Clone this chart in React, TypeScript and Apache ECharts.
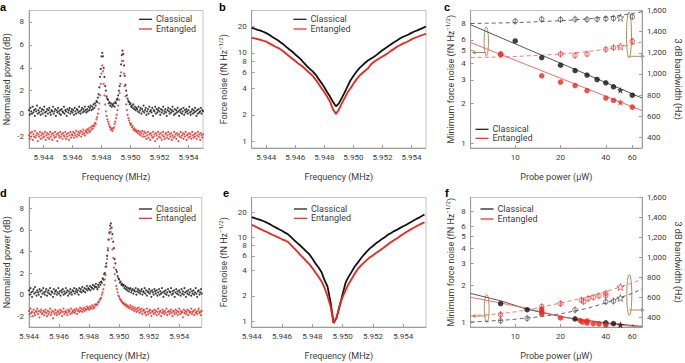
import React, { useEffect, useRef } from 'react';
import * as echarts from 'echarts';

// ---------------- data ----------------
// Panel a: normalized power (dB), sweep 5.943 MHz, 50 Hz steps
const aFreqStart = 5.943;
const aFreqStep = 0.00005;
const aClassical = [
  0.3, -0.1, 0.5, 0.2, 0.0, 0.6, 0.1, 0.3, -0.2, 0.4,
  0.2, 0.7, 0.0, 0.3, 0.1, 0.5, -0.1, 0.2, 0.4, 0.0,
  0.3, 0.6, 0.1, -0.2, 0.2, 0.4, 0.0, 0.3, 0.5, 0.1,
  -0.1, 0.3, 0.2, 0.6, 0.0, 0.2, 0.4, -0.2, 0.3, 0.1,
  0.5, 0.2, 0.0, 0.3, -0.1, 0.4, 0.2, 0.1, 0.6, 0.0,
  0.3, 0.2, -0.2, 0.4, 0.1, 0.3, 0.5, 0.0, 0.2, 0.4,
  0.1, 0.3, -0.1, 0.5, 0.2, 0.0, 0.4, 0.3, 0.1, 0.6,
  0.2, 0.0, 0.3, 0.5, 0.1, 0.4, 0.2, 0.6, 0.3, 0.1,
  0.4, 0.2, 0.6, 0.3, 0.5, 0.7, 0.3, 0.6, 0.4, 0.8,
  0.5, 0.9, 0.7, 1.1, 1.0, 1.4, 1.7, 2.3, 3.2, 3.9,
  5.0, 5.3, 5.0, 4.0, 3.2, 2.4, 2.0, 1.5, 1.3, 1.2,
  0.9, 1.0, 0.7, 0.9, 0.6, 0.8, 0.7, 0.9, 0.6, 1.0,
  0.9, 1.2, 1.3, 1.6, 2.0, 2.4, 3.3, 4.3, 5.1, 5.5,
  5.2, 4.2, 3.3, 2.5, 2.0, 1.6, 1.3, 1.1, 1.0, 0.8,
  0.9, 0.6, 0.7, 0.5, 0.8, 0.4, 0.6, 0.3, 0.5, 0.4,
  0.2, 0.6, 0.1, 0.3, 0.5, 0.0, 0.4, 0.2, 0.7, 0.1,
  0.3, 0.5, -0.1, 0.2, 0.4, 0.0, 0.6, 0.2, 0.3, 0.1,
  0.5, -0.2, 0.3, 0.2, 0.6, 0.0, 0.4, 0.1, 0.3, 0.5,
  0.2, -0.1, 0.4, 0.1, 0.3, 0.6, 0.0, 0.2, 0.4, 0.1,
  -0.2, 0.3, 0.5, 0.2, 0.0, 0.4, 0.1, 0.3, 0.6, 0.2,
  -0.1, 0.4, 0.0, 0.3, 0.1, 0.5, 0.2, -0.2, 0.3, 0.1,
  0.4, 0.0, 0.2, 0.5, -0.1, 0.3, 0.1, 0.4, 0.2, 0.0,
  0.3, 0.6, 0.1, -0.1, 0.2, 0.4, 0.0, 0.3, 0.1, 0.5,
  0.2, -0.2, 0.3, 0.0, 0.4, 0.1, 0.2, 0.5, 0.0, 0.3, 0.2,
];
const aEntangled = [
  -1.9, -2.2, -1.7, -2.0, -1.6, -2.3, -1.8, -2.0, -1.5, -2.1,
  -1.9, -1.7, -2.4, -1.8, -2.0, -1.6, -2.2, -1.9, -1.7, -2.1,
  -1.8, -2.0, -1.6, -2.3, -1.9, -1.7, -2.1, -1.8, -2.2, -1.6,
  -2.0, -1.8, -2.3, -1.7, -1.9, -2.1, -1.6, -2.0, -1.8, -2.4,
  -1.7, -1.9, -2.1, -1.6, -2.0, -1.8, -2.2, -1.7, -1.9, -2.0,
  -1.6, -2.2, -1.8, -2.0, -1.7, -2.3, -1.9, -1.6, -2.1, -1.8,
  -1.9, -1.6, -2.1, -1.7, -1.9, -1.5, -2.0, -1.8, -1.6, -1.9,
  -1.7, -1.5, -2.0, -1.6, -1.8, -1.4, -1.7, -1.9, -1.5, -1.6,
  -1.4, -1.7, -1.3, -1.5, -1.6, -1.2, -1.4, -1.1, -1.3, -1.0,
  -1.1, -0.8, -0.9, -0.5, -0.3, 0.0, 0.4, 0.9, 1.6, 2.6,
  3.5, 4.2, 3.7, 2.6, 1.6, 0.8, 0.2, -0.2, -0.5, -0.7,
  -0.9, -1.1, -1.2, -1.4, -1.3, -1.5, -1.3, -1.2, -0.9, -0.7,
  -0.4, -0.1, 0.3, 0.7, 1.2, 1.8, 2.6, 3.6, 4.6, 5.2,
  4.6, 3.5, 2.4, 1.5, 0.8, 0.3, -0.1, -0.4, -0.6, -0.8,
  -1.0, -0.9, -1.2, -1.1, -1.4, -1.3, -1.5, -1.4, -1.6, -1.5,
  -1.7, -1.5, -1.8, -1.6, -1.9, -1.7, -1.5, -2.0, -1.8, -1.6,
  -2.0, -1.7, -2.2, -1.9, -1.6, -2.1, -1.8, -2.3, -1.7, -1.9,
  -2.1, -1.6, -2.0, -1.8, -2.4, -1.7, -1.9, -2.2, -1.6, -2.0,
  -1.8, -2.1, -1.7, -2.3, -1.9, -1.6, -2.0, -2.2, -1.8, -1.7,
  -2.1, -1.9, -1.6, -2.2, -1.8, -2.0, -1.7, -2.3, -1.9, -2.1,
  -1.6, -2.0, -1.8, -2.2, -1.7, -1.9, -2.4, -1.8, -2.0, -1.6,
  -2.1, -1.9, -1.7, -2.2, -1.8, -2.0, -1.6, -2.3, -1.9, -1.8,
  -2.1, -1.7, -2.0, -1.8, -2.2, -1.6, -1.9, -2.1, -1.8, -2.0,
  -1.7, -2.2, -1.9, -1.6, -2.0, -1.8, -2.3, -1.7, -1.9, -2.1, -1.8,
];

// Panel b: force noise (fN Hz^-1/2), 200 Hz steps from 5.943 MHz
const bFreqStart = 5.943;
const bFreqStep = 0.0002;
const bClassical = [
  19.1, 18.7, 18.2, 17.8, 17.3, 16.7, 16.0, 15.2, 14.5, 13.9,
  13.1, 12.4, 11.6, 10.9, 10.3, 9.6, 9.0, 8.4, 7.7, 7.1,
  6.6, 6.2, 5.7, 5.1, 4.6, 4.1, 3.6, 3.2, 2.8, 2.5,
  2.7, 3.1, 3.6, 4.2, 4.9, 5.5, 6.1, 6.7, 7.2, 7.7,
  8.2, 8.6, 9.0, 9.5, 10.1, 10.7, 11.3, 11.9, 12.5, 13.2,
  13.8, 14.5, 15.1, 15.6, 16.1, 16.8, 17.4, 17.9, 18.5, 19.1, 19.8,
];
const bEntangled = [
  14.8, 14.6, 14.3, 14.0, 13.7, 13.4, 12.8, 12.3, 11.8, 11.4,
  10.9, 10.3, 9.7, 9.1, 8.6, 8.1, 7.6, 7.2, 6.8, 6.3,
  5.9, 5.5, 5.0, 4.5, 4.0, 3.6, 3.2, 2.8, 2.3, 2.05,
  2.3, 2.7, 3.1, 3.6, 4.0, 4.5, 5.0, 5.5, 5.9, 6.3,
  6.7, 7.4, 7.9, 8.3, 8.7, 9.1, 9.5, 10.0, 10.6, 11.1,
  11.7, 12.2, 12.7, 13.1, 13.6, 14.2, 14.7, 15.1, 15.6, 16.0, 16.4,
];

// Panel c: probe power sweep
const cClassicalPower = [10, 15, 20, 25, 30, 35, 40, 45, 60];
const cClassicalForce = [5.9, 4.42, 3.87, 3.53, 3.26, 3.02, 2.85, 2.66, 2.3];
const cClassicalStar = [50, 2.51];
const cEntangledPower = [8, 15, 20, 25, 30, 40, 45, 60];
const cEntangledForce = [4.69, 3.22, 2.89, 2.72, 2.49, 2.19, 2.1, 1.87];
const cEntangledStar = [50, 2.03];
const cClassicalBwPower = [10, 15, 20, 25, 30, 35, 40, 45, 60];
const cClassicalBw = [1499, 1518, 1515, 1518, 1515, 1518, 1522, 1525, 1541];
const cClassicalBwStar = [50, 1531];
const cEntangledBwPower = [8, 20, 25, 30, 40, 45, 60];
const cEntangledBw = [1185, 1188, 1175, 1188, 1232, 1248, 1310];
const cEntangledBwStar = [50, 1260];
const cFitPower = [5.06, 69.6];
const cClassicalFit = [7.8, 2.19];
const cEntangledFit = [5.73, 1.76];
const cDashPower = [5.06, 10, 20, 30, 40, 50, 60, 69.6];
const cClassicalBwFit = [1477, 1485, 1503, 1520, 1537, 1554, 1572, 1588];
const cEntangledBwFit = [1154, 1165, 1188, 1211, 1234, 1257, 1280, 1302];

// Panel d
const dFreqStart = 5.944;
const dFreqStep = 0.00005;
const dClassical = [
  0.4, 0.0, 0.6, 0.2, -0.2, 0.3, 0.5, 0.1, 0.7, 0.2,
  -0.1, 0.4, 0.2, 0.0, 0.5, 0.3, -0.2, 0.4, 0.1, 0.6,
  0.2, 0.0, 0.3, 0.5, -0.1, 0.2, 0.4, 0.1, 0.6, 0.0,
  0.3, 0.2, -0.2, 0.5, 0.1, 0.3, 0.4, 0.0, 0.2, 0.6,
  0.1, 0.3, -0.1, 0.4, 0.2, 0.5, 0.0, 0.3, 0.1, 0.6,
  0.2, 0.4, -0.1, 0.3, 0.1, 0.5, 0.2, 0.0, 0.4, 0.3,
  0.6, 0.1, 0.3, 0.5, 0.2, 0.4, 0.0, 0.6, 0.3, 0.5,
  0.2, 0.7, 0.4, 0.3, 0.6, 0.2, 0.5, 0.8, 0.4, 0.6,
  0.5, 0.8, 0.4, 0.7, 0.6, 0.9, 0.5, 0.8, 0.7, 1.0,
  0.7, 0.5, 0.9, 0.7, 1.1, 0.9, 1.2, 1.1, 1.5, 1.4,
  1.9, 2.0, 2.6, 2.9, 3.6, 4.1, 5.1, 5.7, 6.4, 6.6,
  6.2, 5.6, 4.9, 4.3, 3.3, 2.9, 2.3, 2.1, 1.7, 1.5,
  1.4, 1.1, 1.2, 0.9, 1.0, 0.8, 0.9, 0.6, 0.8, 0.5,
  0.7, 0.4, 0.6, 0.3, 0.5, 0.6, 0.2, 0.4, 0.5, 0.1,
  0.4, 0.3, 0.6, 0.0, 0.3, 0.5, 0.2, 0.4, 0.1, 0.3,
  0.5, 0.0, 0.3, 0.2, 0.6, 0.1, 0.4, -0.1, 0.3, 0.2,
  0.5, 0.1, 0.3, -0.2, 0.4, 0.2, 0.0, 0.5, 0.3, 0.1,
  0.4, -0.1, 0.2, 0.5, 0.0, 0.3, 0.1, 0.6, 0.2, -0.2,
  0.3, 0.1, 0.4, 0.0, 0.2, 0.5, -0.1, 0.3, 0.2, 0.6,
  0.0, 0.3, 0.1, 0.4, -0.2, 0.2, 0.5, 0.1, 0.3, 0.0,
  0.4, 0.2, -0.1, 0.5, 0.1, 0.3, 0.0, 0.6, 0.2, -0.2,
  0.3, 0.1, 0.4, 0.0, 0.2, 0.5, -0.1, 0.3, 0.1, 0.4,
  0.0, 0.2, 0.6, 0.1, -0.2, 0.3, 0.4, 0.0, 0.2, 0.5, 0.1,
];
const dEntangled = [
  -1.5, -1.8, -1.3, -1.7, -1.6, -2.0, -1.4, -1.7, -1.9, -1.5,
  -1.6, -1.3, -1.8, -1.5, -2.1, -1.6, -1.4, -1.8, -1.7, -1.5,
  -1.9, -1.6, -1.4, -1.7, -2.0, -1.5, -1.8, -1.6, -1.3, -1.9,
  -1.7, -1.5, -2.2, -1.6, -1.8, -1.4, -1.7, -1.9, -1.5, -1.6,
  -1.8, -1.4, -1.7, -1.5, -2.0, -1.6, -1.3, -1.8, -1.6, -1.5,
  -1.7, -1.9, -1.4, -1.6, -1.5, -1.8, -1.3, -1.7, -1.5, -1.6,
  -1.4, -1.7, -1.5, -1.3, -1.8, -1.5, -1.4, -1.6, -1.2, -1.5,
  -1.3, -1.6, -1.4, -1.2, -1.5, -1.3, -1.4, -1.1, -1.3, -1.2,
  -1.4, -1.1, -1.3, -1.2, -1.0, -1.3, -1.1, -1.2, -0.9, -1.0,
  -0.9, -0.9, -0.7, -0.7, -0.5, -0.4, -0.3, 0.0, 0.2, 0.5,
  0.9, 1.4, 1.8, 2.6, 3.3, 4.3, 5.1, 5.8, 6.1, 5.8,
  5.2, 4.2, 3.4, 2.5, 1.9, 1.3, 0.8, 0.5, 0.2, -0.1,
  -0.2, -0.4, -0.5, -0.6, -0.7, -0.8, -0.8, -0.9, -1.0, -0.9,
  -1.1, -1.0, -1.2, -1.1, -1.3, -1.0, -1.2, -1.4, -1.1, -1.3,
  -1.5, -1.2, -1.4, -1.6, -1.3, -1.5, -1.2, -1.7, -1.4, -1.6,
  -1.3, -1.8, -1.5, -1.4, -1.7, -1.6, -1.9, -1.3, -1.6, -1.8,
  -1.5, -1.4, -1.7, -2.0, -1.5, -1.6, -1.8, -1.4, -1.7, -1.5,
  -1.9, -1.6, -1.3, -1.8, -1.6, -1.5, -2.0, -1.7, -1.4, -1.6,
  -1.8, -1.5, -1.7, -1.3, -1.9, -1.6, -1.5, -1.8, -1.6, -1.4,
  -1.7, -2.0, -1.5, -1.6, -1.8, -1.4, -1.7, -1.5, -1.9, -1.6,
  -1.3, -1.8, -1.5, -1.7, -1.6, -2.1, -1.4, -1.7, -1.5, -1.8,
  -1.6, -1.4, -1.9, -1.5, -1.7, -1.6, -1.3, -1.8, -1.6, -1.5,
  -1.9, -1.4, -1.7, -1.6, -1.8, -1.5, -1.3, -1.7, -1.6, -1.9, -1.5,
];

// Panel e
const eFreqStart = 5.944;
const eFreqStep = 0.0002;
const eClassical = [
  17.5, 17.0, 16.5, 16.1, 15.6, 15.0, 14.4, 13.7, 13.1, 12.5,
  12.0, 11.4, 10.9, 10.1, 9.3, 8.6, 8.0, 7.4, 6.8, 6.3,
  5.6, 4.9, 4.4, 3.87, 3.1, 2.6, 1.7, 0.95, 1.1, 1.5,
  2.1, 2.9, 3.4, 3.9, 4.5, 5.0, 5.6, 6.2, 6.8, 7.4,
  7.9, 8.5, 9.0, 9.6, 10.1, 10.8, 11.3, 11.9, 12.4, 13.0,
  13.6, 14.2, 14.9, 15.6, 16.4, 17.1, 17.9, 18.8,
];
const eEntangled = [
  14.1, 13.6, 13.0, 12.5, 12.0, 11.6, 11.1, 10.7, 10.3, 9.9,
  9.5, 9.2, 8.8, 8.1, 7.4, 6.8, 6.2, 5.7, 5.2, 4.8,
  4.3, 3.8, 3.4, 3.0, 2.5, 2.0, 1.5, 0.95, 1.1, 1.55,
  1.95, 2.35, 2.8, 3.2, 3.7, 4.2, 4.6, 5.0, 5.4, 5.8,
  6.1, 6.5, 6.9, 7.3, 7.8, 8.3, 8.8, 9.3, 9.8, 10.4,
  11.0, 11.6, 12.2, 12.8, 13.4, 14.0, 14.6, 15.2,
];

// Panel f
const fClassicalPower = [8, 12, 25, 40, 45];
const fClassicalForce = [1.42, 1.27, 1.07, 0.995, 0.98];
const fClassicalStar = [50, 0.96];
const fEntangledPower = [15, 15, 15, 20, 27, 28, 30, 30, 33, 36, 40];
const fEntangledForce = [1.28, 1.22, 1.17, 1.09, 1.04, 1.01, 1.03, 0.99, 0.98, 0.975, 0.955];
const fClassicalBwPower = [8, 12, 25, 40, 45];
const fClassicalBw = [362, 387, 472, 554, 560];
const fClassicalBwStar = [50, 591];
const fEntangledBwPower = [8, 15, 20, 27.5, 28.5, 30.5, 33, 36, 40, 40];
const fEntangledBw = [425, 505, 535, 570, 554, 585, 598, 613, 639, 617];
const fEntangledBwStar = [50, 702];
const fSolidPower = [5.06, 8, 12, 20, 25, 40, 69.6];
const fClassicalFit = [1.72, 1.5, 1.28, 1.12, 1.07, 0.995, 0.93];
const fEntangledFit = [1.6, 1.44, 1.3, 1.12, 1.06, 0.98, 0.915];
const fDashPower = [5.06, 8, 10, 15, 20, 30, 40, 50, 60, 69.6];
const fClassicalBwFit = [350, 366, 378, 405, 432, 487, 541, 596, 637, 680];
const fEntangledBwFit = [412, 434, 452, 500, 541, 600, 655, 702, 742, 780];

// tick labels
const freqTicks = [5.944, 5.946, 5.948, 5.95, 5.952, 5.954];
const dbTicks = [-2, 0, 2, 4, 6, 8];
const forceTicksBE = [1, 2, 4, 6, 8, 10, 20];
const forceTicksCF = [1, 2, 3, 4, 5, 6, 7, 8];
const bwTicks = [400, 600, 800, 1000, 1200, 1400, 1600];
const powerTicks = [10, 20, 40, 60];

// ---------------- styling ----------------
const FONT = 'Roboto, "Noto Sans", "DejaVu Sans", sans-serif';
const AX = '#9d9d9d';
const TXT = '#3c3c3c';
const BLACK = '#111111';
const RED = '#f3221c';
const TAN = '#b38b60';
const STAR = 'path://M0,-10L2.35,-3.24L9.51,-3.09L3.8,1.24L5.88,8.09L0,4L-5.88,8.09L-3.8,1.24L-9.51,-3.09L-2.35,-3.24Z';
const PHI = 'path://M0,-9L0,9M6,0A6,6 0 1,1 -6,0A6,6 0 1,1 6,0Z';

const seq = (start: number, step: number, ys: number[]) =>
  ys.map((y, i) => [Number((start + step * i).toFixed(6)), y]);
const zip = (xs: number[], ys: number[]) => xs.map((x, i) => [x, ys[i]]);

const forceName = (prefix: string) => `${prefix} (fN Hz{sup|−1/2})`;
const nameStyle = {
  color: TXT,
  fontSize: 9,
  fontFamily: FONT,
  lineHeight: 12,
  rich: { sup: { fontSize: 6, lineHeight: 6, verticalAlign: 'top', color: TXT, fontFamily: FONT } },
};

function baseAxis(extra: any) {
  return {
    axisLine: { show: true, onZero: false, lineStyle: { color: AX, width: 1 } },
    splitLine: { show: false },
    nameTextStyle: nameStyle,
    ...extra,
    axisTick: { show: true, inside: true, length: 3, lineStyle: { color: AX }, ...(extra.axisTick || {}) },
    axisLabel: {
      color: TXT, fontSize: 8, fontFamily: FONT, margin: 5, hideOverlap: false, interval: 0,
      showMinLabel: true, showMaxLabel: true, ...(extra.axisLabel || {}),
    },
  };
}

function freqAxis(grid: number, min: number, max: number) {
  return baseAxis({
    type: 'value',
    gridIndex: grid,
    min,
    max,
    name: 'Frequency (MHz)',
    nameLocation: 'middle',
    nameGap: 23,
    axisTick: { customValues: freqTicks },
    axisLabel: { customValues: freqTicks, formatter: (v: number) => v.toFixed(3) },
  });
}
function powerAxis(grid: number) {
  return baseAxis({
    type: 'log',
    gridIndex: grid,
    min: 5.06,
    max: 69.6,
    name: 'Probe power (μW)',
    nameLocation: 'middle',
    nameGap: 23,
    axisTick: { customValues: powerTicks },
    axisLabel: { customValues: powerTicks, formatter: (v: number) => String(Math.round(v)) },
  });
}

function legendG(x: number, y1: number, y2: number) {
  const t = (y: number, text: string) => ({
    type: 'text',
    x: x + 17,
    y,
    style: { text, fill: TXT, fontSize: 9, fontFamily: FONT, textVerticalAlign: 'middle', verticalAlign: 'middle' },
  });
  return [
    { type: 'line', shape: { x1: x, y1, x2: x + 13, y2: y1 }, style: { stroke: BLACK, lineWidth: 1.2 } },
    t(y1, 'Classical'),
    { type: 'line', shape: { x1: x, y1: y2, x2: x + 13, y2: y2 }, style: { stroke: RED, lineWidth: 1.2 } },
    t(y2, 'Entangled'),
  ];
}
function letter(x: number, y: number, text: string) {
  return {
    type: 'text',
    x,
    y,
    style: { text, fill: '#000', fontSize: 11, fontWeight: 'bold', fontFamily: '"Liberation Sans", Arial, sans-serif', textVerticalAlign: 'top', verticalAlign: 'top' },
  };
}
function ellipse(cx: number, cy: number, rx: number, ry: number) {
  return { type: 'ellipse', shape: { cx, cy, rx, ry }, style: { fill: 'none', stroke: TAN, lineWidth: 1 } };
}
function arrow(x1: number, x2: number, y: number) {
  const dir = x2 > x1 ? 1 : -1;
  return [
    { type: 'line', shape: { x1, y1: y, x2: x2 - dir * 3, y2: y }, style: { stroke: TAN, lineWidth: 1 } },
    { type: 'polygon', shape: { points: [[x2, y], [x2 - dir * 4, y - 2], [x2 - dir * 4, y + 2]] }, style: { fill: TAN } },
  ];
}

function dots(name: string, x: number, y: number, data: any[], color: string) {
  return { name, type: 'scatter', xAxisIndex: x, yAxisIndex: y, data, symbol: 'circle', symbolSize: 2, itemStyle: { color }, silent: true };
}
function curve(name: string, x: number, y: number, data: any[], color: string, width = 1.8, dashed = false) {
  return {
    name, type: 'line', xAxisIndex: x, yAxisIndex: y, data, symbol: 'none', showSymbol: false, silent: true,
    lineStyle: { color, width, type: dashed ? [4, 3] : 'solid' },
  };
}
function marks(name: string, x: number, y: number, data: any[], color: string, kind: 'filled' | 'star' | 'phi' | 'ostar') {
  const base: any = { name, type: 'scatter', xAxisIndex: x, yAxisIndex: y, data, silent: true, z: 5 };
  if (kind === 'filled') return { ...base, symbol: 'circle', symbolSize: 5.5, itemStyle: { color } };
  if (kind === 'star') return { ...base, symbol: STAR, symbolSize: 7, itemStyle: { color } };
  if (kind === 'phi') return { ...base, symbol: PHI, symbolSize: [4.6, 6.9], itemStyle: { color: 'rgba(0,0,0,0)', borderColor: color, borderWidth: 0.8 } };
  return { ...base, symbol: STAR, symbolSize: 7, itemStyle: { color: 'rgba(0,0,0,0)', borderColor: color, borderWidth: 0.8 } };
}

export default function App() {
  const ref = useRef<HTMLDivElement>(null);
  useEffect(() => {
    if (!ref.current) return;
    const chart = echarts.init(ref.current, undefined, { renderer: 'svg' });
    const gridStyle = { show: true, borderColor: '#c4c4c4', borderWidth: 1, containLabel: false };
    const option: any = {
      animation: false,
      textStyle: { fontFamily: FONT },
      grid: [
        { ...gridStyle, left: 27, top: 10.5, width: 176, height: 137.5 },
        { ...gridStyle, left: 251.7, top: 10.5, width: 174.3, height: 137.5 },
        { ...gridStyle, left: 470.7, top: 10.5, width: 174.3, height: 137.5 },
        { ...gridStyle, left: 26.7, top: 197.5, width: 175, height: 138 },
        { ...gridStyle, left: 251.7, top: 197.5, width: 174.3, height: 138 },
        { ...gridStyle, left: 470.7, top: 197.5, width: 173.6, height: 138 },
      ],
      xAxis: [
        freqAxis(0, 5.943, 5.955),
        freqAxis(1, 5.943, 5.955),
        powerAxis(2),
        freqAxis(3, 5.944, 5.9555),
        freqAxis(4, 5.944, 5.9555),
        powerAxis(5),
      ],
      yAxis: [
        baseAxis({
          type: 'value', gridIndex: 0, min: -3, max: 9, name: 'Normalized power (dB)', nameLocation: 'middle', nameGap: 16,
          axisTick: { customValues: dbTicks }, axisLabel: { customValues: dbTicks },
        }),
        baseAxis({
          type: 'log', gridIndex: 1, min: 0.85, max: 30, name: forceName('Force noise'), nameLocation: 'middle', nameGap: 22,
          axisTick: { customValues: forceTicksBE }, axisLabel: { customValues: forceTicksBE, formatter: (v: number) => String(Math.round(v)) },
        }),
        baseAxis({
          type: 'log', gridIndex: 2, min: 0.92, max: 10, name: forceName('Minimum force noise'), nameLocation: 'middle', nameGap: 14,
          axisTick: { customValues: forceTicksCF }, axisLabel: { customValues: forceTicksCF, formatter: (v: number) => String(Math.round(v)) },
        }),
        baseAxis({
          type: 'value', gridIndex: 2, position: 'right', min: 300, max: 1600, name: '3 dB bandwidth (Hz)', nameLocation: 'middle', nameGap: 30, nameRotate: -90,
          axisTick: { customValues: bwTicks }, axisLabel: { customValues: bwTicks, formatter: (v: number) => v.toLocaleString('en-US') },
        }),
        baseAxis({
          type: 'value', gridIndex: 3, min: -3, max: 9, name: 'Normalized power (dB)', nameLocation: 'middle', nameGap: 16,
          axisTick: { customValues: dbTicks }, axisLabel: { customValues: dbTicks },
        }),
        baseAxis({
          type: 'log', gridIndex: 4, min: 0.85, max: 30, name: forceName('Force noise'), nameLocation: 'middle', nameGap: 22,
          axisTick: { customValues: forceTicksBE }, axisLabel: { customValues: forceTicksBE, formatter: (v: number) => String(Math.round(v)) },
        }),
        baseAxis({
          type: 'log', gridIndex: 5, min: 0.92, max: 10.3, name: forceName('Minimum force noise'), nameLocation: 'middle', nameGap: 14,
          axisTick: { customValues: forceTicksCF }, axisLabel: { customValues: forceTicksCF, formatter: (v: number) => String(Math.round(v)) },
        }),
        baseAxis({
          type: 'value', gridIndex: 5, position: 'right', min: 300, max: 1600, name: '3 dB bandwidth (Hz)', nameLocation: 'middle', nameGap: 30, nameRotate: -90,
          axisTick: { customValues: bwTicks }, axisLabel: { customValues: bwTicks, formatter: (v: number) => v.toLocaleString('en-US') },
        }),
      ],
      series: [
        // a
        dots('Classical', 0, 0, seq(aFreqStart, aFreqStep, aClassical), BLACK),
        dots('Entangled', 0, 0, seq(aFreqStart, aFreqStep, aEntangled), RED),
        // b
        curve('Classical', 1, 1, seq(bFreqStart, bFreqStep, bClassical), BLACK),
        curve('Entangled', 1, 1, seq(bFreqStart, bFreqStep, bEntangled), RED),
        // c
        curve('Classical fit', 2, 2, zip(cFitPower, cClassicalFit), '#444', 0.9),
        curve('Entangled fit', 2, 2, zip(cFitPower, cEntangledFit), '#ff5a55', 0.9),
        curve('Classical bandwidth fit', 2, 3, zip(cDashPower, cClassicalBwFit), '#555', 0.9, true),
        curve('Entangled bandwidth fit', 2, 3, zip(cDashPower, cEntangledBwFit), '#ff6a66', 0.9, true),
        marks('Classical', 2, 2, zip(cClassicalPower, cClassicalForce), BLACK, 'filled'),
        marks('Classical star', 2, 2, [cClassicalStar], BLACK, 'star'),
        marks('Entangled', 2, 2, zip(cEntangledPower, cEntangledForce), RED, 'filled'),
        marks('Entangled star', 2, 2, [cEntangledStar], RED, 'star'),
        marks('Classical bandwidth', 2, 3, zip(cClassicalBwPower, cClassicalBw), '#444', 'phi'),
        marks('Classical bandwidth star', 2, 3, [cClassicalBwStar], '#444', 'ostar'),
        marks('Entangled bandwidth', 2, 3, zip(cEntangledBwPower, cEntangledBw), RED, 'phi'),
        marks('Entangled bandwidth star', 2, 3, [cEntangledBwStar], RED, 'ostar'),
        // d
        dots('Classical', 3, 4, seq(dFreqStart, dFreqStep, dClassical), BLACK),
        dots('Entangled', 3, 4, seq(dFreqStart, dFreqStep, dEntangled), RED),
        // e
        curve('Classical', 4, 5, seq(eFreqStart, eFreqStep, eClassical), BLACK),
        curve('Entangled', 4, 5, seq(eFreqStart, eFreqStep, eEntangled), RED),
        // f
        curve('Classical fit f', 5, 6, zip(fSolidPower, fClassicalFit), '#444', 0.9),
        curve('Entangled fit f', 5, 6, zip(fSolidPower, fEntangledFit), '#ff5a55', 0.9),
        curve('Classical bandwidth fit f', 5, 7, zip(fDashPower, fClassicalBwFit), '#555', 0.9, true),
        curve('Entangled bandwidth fit f', 5, 7, zip(fDashPower, fEntangledBwFit), '#ff6a66', 0.9, true),
        marks('Classical', 5, 6, zip(fClassicalPower, fClassicalForce), BLACK, 'filled'),
        marks('Classical star f', 5, 6, [fClassicalStar], BLACK, 'star'),
        marks('Entangled', 5, 6, zip(fEntangledPower, fEntangledForce), RED, 'filled'),
        marks('Classical bandwidth f', 5, 7, zip(fClassicalBwPower, fClassicalBw), '#444', 'phi'),
        marks('Classical bandwidth star f', 5, 7, [fClassicalBwStar], '#444', 'ostar'),
        marks('Entangled bandwidth f', 5, 7, zip(fEntangledBwPower, fEntangledBw), RED, 'phi'),
        marks('Entangled bandwidth star f', 5, 7, [fEntangledBwStar], RED, 'ostar'),
      ],
      graphic: [
        letter(0, 1, 'a'),
        letter(219, 1, 'b'),
        letter(444, 1, 'c'),
        letter(0, 187, 'd'),
        letter(223, 187, 'e'),
        letter(445, 187, 'f'),
        ...legendG(139, 19.3, 29),
        ...legendG(293.5, 19.3, 29),
        ...legendG(475.5, 129.3, 138.3),
        ...legendG(139, 209, 218.3),
        ...legendG(294, 209, 218.3),
        ...legendG(480.5, 209, 219),
        ellipse(486.3, 41.5, 2.2, 14.5),
        ...arrow(486.3, 471.5, 52.5),
        ellipse(629, 35, 2.5, 23),
        ...arrow(629, 645, 56.3),
        ellipse(486.7, 308.5, 2.4, 14),
        ...arrow(486.7, 471.5, 316),
        ellipse(629.3, 295, 2.5, 20.5),
        ...arrow(629.3, 645, 310),
      ],
    };
    chart.setOption(option);
    return () => chart.dispose();
  }, []);
  return <div ref={ref} style={{ position: 'fixed', left: 0, top: 0, width: 685, height: 363, background: '#fff' }} />;
}
